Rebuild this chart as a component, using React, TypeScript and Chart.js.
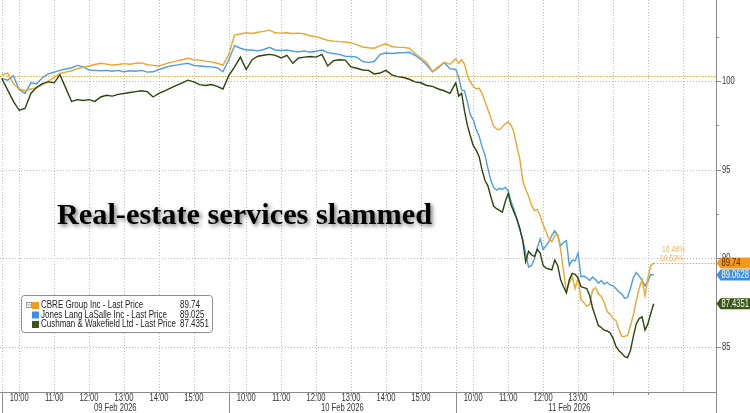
import React, { useEffect, useRef } from "react";
import { Chart, registerables } from "chart.js";

Chart.register(...registerables);

// ---------- data ----------
const DAYS = ["09 Feb 2026", "10 Feb 2026", "11 Feb 2026"];
const OPEN = "09:30";
const STEP_MIN = [10, 10, 5]; // minutes between readings on each day
const HOUR_LABELS = [
  ["10:00", "11:00", "12:00", "13:00", "14:00", "15:00"],
  ["10:00", "11:00", "12:00", "13:00", "14:00", "15:00"],
  ["10:00", "11:00", "12:00", "13:00"],
];
const GRID_TIMES = ["09:30", "10:00", "11:00", "12:00", "13:00", "14:00", "15:00"];
const Y_TICKS = [85, 90, 95, 100];
const Y_MINOR = [87.5, 92.5, 97.5, 102.5];
const Y_MIN = 82.46;
const Y_MAX = 104.57;

const SERIES_NAMES = [
  "CBRE Group Inc - Last Price",
  "Jones Lang LaSalle Inc - Last Price",
  "Cushman & Wakefield Ltd - Last Price",
];
const LEGEND_VALUES = ["89.74", "89.025", "87.4351"];
const TAG_LABELS = ["89.74", "89.0628", "87.4351"];
const CBRE_REF = 100.28;
const CHANGE_LABELS = ["-10.48%", "-10.50%"];
const TITLE = "Real-estate services slammed";

const cbreDay1 = [100.34, 100.45, 99.85, 99.55, 99.45, 99.55, 99.62, 99.8, 100.0, 100.2, 100.43, 100.5, 100.58, 100.7, 100.78, 100.85, 100.93, 101.0, 100.95, 100.9, 100.93, 100.98, 100.95, 101.0, 101.02, 100.92, 100.88, 100.85, 100.95, 101.05, 101.12, 101.2, 101.28, 101.2, 101.18, 101.12, 101.08, 101.0, 100.9];
const cbreDay2 = [101.5, 102.6, 102.65, 102.72, 102.68, 102.75, 102.8, 102.87, 102.72, 102.7, 102.72, 102.68, 102.7, 102.65, 102.55, 102.5, 102.4, 102.3, 102.25, 102.22, 102.2, 102.15, 102.05, 101.92, 101.88, 101.85, 102.0, 102.1, 101.95, 101.9, 101.9, 101.85, 101.55, 101.3, 101.05, 100.55, 100.8, 101.05, 100.95];
const cbreDay3 = [101.25, 101.0, 101.2, 100.95, 100.3, 99.95, 99.7, 99.55, 99.6, 99.3, 98.85, 98.4, 97.95, 97.45, 97.3, 97.25, 97.4, 97.6, 97.7, 97.5, 97.1, 96.3, 95.6, 94.4, 93.9, 93.5, 93.0, 92.7, 92.75, 92.4, 91.9, 91.5, 91.1, 90.95, 91.3, 91.35, 90.5, 89.3, 88.1, 88.6, 88.95, 88.3, 88.9, 87.7, 87.5, 87.3, 87.4, 88.2, 88.35, 88.0, 87.85, 87.5, 87.0, 86.85, 86.6, 86.5, 86.0, 85.6, 85.6, 85.65, 86.2, 86.8, 87.6, 88.3, 88.8, 87.9, 88.9, 89.6, 89.74];

const jllDay1 = [100.15, 100.05, 100.3, 99.5, 99.3, 99.9, 99.85, 100.2, 100.4, 100.5, 100.6, 100.68, 100.75, 100.88, 100.8, 100.62, 100.6, 100.58, 100.6, 100.55, 100.6, 100.52, 100.58, 100.55, 100.6, 100.5, 100.52, 100.65, 100.75, 100.85, 100.9, 100.95, 101.0, 100.88, 100.85, 100.82, 100.8, 100.75, 100.52];
const jllDay2 = [101.2, 102.0, 101.85, 101.75, 101.75, 101.7, 101.78, 101.9, 101.75, 101.72, 101.75, 101.68, 101.65, 101.7, 101.62, 101.68, 101.75, 101.6, 101.55, 101.5, 101.4, 101.38, 101.35, 101.1, 101.05, 101.1, 101.5, 101.58, 101.55, 101.58, 101.6, 101.62, 101.45, 101.2, 100.9, 100.52, 100.75, 101.05, 100.7];
const jllDay3 = [100.65, 100.2, 99.5, 99.45, 98.8, 98.1, 97.8, 97.3, 96.9, 96.3, 95.85, 95.1, 94.4, 94.0, 93.85, 93.95, 93.9, 94.0, 93.8, 93.2, 92.75, 92.2, 91.6, 91.05, 90.3, 89.5, 89.6, 89.95, 90.6, 91.1, 90.5, 90.7, 90.95, 91.3, 91.55, 91.3, 90.7, 90.9, 91.0, 89.6, 89.9, 89.85, 90.3, 88.95, 89.0, 88.9, 88.75, 88.95, 88.8, 88.6, 88.75, 88.55, 88.65, 88.5, 88.45, 88.3, 88.1, 88.0, 87.75, 87.8, 88.3, 88.9, 89.2, 89.0, 88.75, 88.45, 88.7, 89.1, 89.06];

const cwDay1 = [100.15, 99.5, 98.85, 98.35, 98.45, 99.3, 99.65, 99.85, 99.95, 99.9, 100.35, 99.6, 98.85, 98.95, 98.9, 98.95, 98.85, 99.1, 99.2, 99.15, 99.25, 99.3, 99.35, 99.4, 99.45, 99.4, 99.1, 99.3, 99.45, 99.6, 99.75, 99.9, 100.05, 99.95, 99.8, 99.75, 99.8, 99.7, 99.55];
const cwDay2 = [100.3, 100.8, 101.35, 100.65, 101.2, 101.4, 101.45, 101.5, 101.45, 101.3, 101.45, 101.0, 101.3, 101.35, 101.38, 101.35, 101.5, 100.85, 101.15, 101.2, 101.18, 100.8, 100.72, 100.62, 100.6, 100.4, 100.45, 100.6, 100.35, 100.25, 100.2, 100.1, 99.95, 99.9, 99.75, 99.7, 99.55, 99.45, 99.3];
const cwDay3 = [99.9, 99.15, 99.3, 98.3, 97.5, 96.9, 96.35, 96.1, 95.75, 95.0, 94.4, 94.1, 93.5, 92.95, 92.8, 92.7, 92.6, 93.2, 93.65, 93.0, 92.6, 92.2, 91.7, 91.0, 89.8, 90.4, 90.2, 90.1, 90.5, 90.3, 89.6, 89.45, 89.4, 89.35, 89.9, 89.6, 88.8, 88.4, 88.05, 88.8, 89.15, 89.1, 88.9, 88.4, 88.35, 88.3, 87.9, 87.2, 86.7, 86.2, 86.1, 85.95, 85.9, 85.8, 85.5, 85.05, 84.8, 84.65, 84.45, 84.4, 84.8, 85.6, 86.3, 86.6, 86.7, 85.95, 86.3, 86.9, 87.4351];

const LINE_COLORS = ["#EBA62E", "#4E9DE0", "#2C4410"];
const TAG_COLORS = ["#F39A1B", "#3D8EE2", "#3A5618"];
const TAG_TEXT = ["#5A2400", "#FFFFFF", "#FFFFFF"];

// ---------- helpers ----------
const SESSION_MIN = 390;
const X_MIN = -3;
const X_MAX = 1227;
const hm = (t: string) => {
  const [h, m] = t.split(":").map(Number);
  return h * 60 + m;
};
const toX = (day: number, t: string) => day * SESSION_MIN + hm(t) - hm(OPEN);

function buildSeries(days: number[][]) {
  const pts: { x: number; y: number }[] = [];
  days.forEach((vals, d) => {
    vals.forEach((v, i) => pts.push({ x: d * SESSION_MIN + i * STEP_MIN[d], y: v }));
  });
  return pts;
}

const SX = 0.76;
function txt(
  ctx: CanvasRenderingContext2D,
  s: string,
  x: number,
  y: number,
  font: string,
  color: string,
  align: "left" | "center" | "right" = "left",
  sx = SX
) {
  ctx.save();
  ctx.font = font;
  ctx.fillStyle = color;
  ctx.textBaseline = "middle";
  ctx.textAlign = "left";
  const w = ctx.measureText(s).width * sx;
  const x0 = align === "center" ? x - w / 2 : align === "right" ? x - w : x;
  ctx.translate(x0, y);
  ctx.scale(sx, 1);
  ctx.fillText(s, 0, 0);
  ctx.restore();
}

function seg(ctx: CanvasRenderingContext2D, x1: number, y1: number, x2: number, y2: number) {
  ctx.beginPath();
  ctx.moveTo(x1, y1);
  ctx.lineTo(x2, y2);
  ctx.stroke();
}

const AXIS_FONT = "10px 'Liberation Sans', Arial, sans-serif";

const decoPlugin = {
  id: "deco",
  beforeDatasetsDraw(chart: any) {
    const { ctx, chartArea: a, scales } = chart;
    const xs = scales.x;
    const ys = scales.y;
    ctx.save();
    ctx.lineWidth = 1;
    ctx.strokeStyle = "#b9b9b9";
    ctx.setLineDash([1, 2]);
    for (const v of Y_TICKS) {
      const py = Math.round(ys.getPixelForValue(v)) + 0.5;
      seg(ctx, a.left, py, a.right, py);
    }
    for (let d = 0; d < 3; d++) {
      const times = d === 2 ? [...GRID_TIMES, "16:00"] : GRID_TIMES;
      for (const t of times) {
        const px = Math.round(xs.getPixelForValue(toX(d, t))) + 0.5;
        seg(ctx, px, a.top, px, a.bottom);
      }
    }
    // CBRE reference line
    ctx.strokeStyle = LINE_COLORS[0];
    ctx.setLineDash([1.5, 1.5]);
    const ry = Math.round(ys.getPixelForValue(CBRE_REF)) + 0.5;
    seg(ctx, a.left, ry, a.right, ry);
    // CBRE last value line
    const data = chart.data.datasets[0].data;
    const last = data[data.length - 1];
    const ly = Math.round(ys.getPixelForValue(last.y)) + 0.5;
    seg(ctx, xs.getPixelForValue(last.x), ly, a.right, ly);
    ctx.restore();
  },
  afterDraw(chart: any) {
    const { ctx, chartArea: a, scales } = chart;
    const xs = scales.x;
    const ys = scales.y;
    const W = chart.width;
    const H = chart.height;
    ctx.save();
    ctx.setLineDash([]);
    ctx.lineWidth = 1;
    ctx.strokeStyle = "#8a8a8a";
    // axes
    seg(ctx, a.left, a.bottom + 0.5, a.right, a.bottom + 0.5);
    seg(ctx, a.right + 0.5, 0, a.right + 0.5, H);
    // y ticks and labels
    for (const v of Y_MINOR) {
      const py = Math.round(ys.getPixelForValue(v)) + 0.5;
      seg(ctx, a.right, py, a.right + 3, py);
    }
    for (const v of Y_TICKS) {
      const py = Math.round(ys.getPixelForValue(v)) + 0.5;
      seg(ctx, a.right, py, a.right + 5, py);
      txt(ctx, String(v), a.right + 6, py, AXIS_FONT, "#333");
    }
    // x axis: day separators, half-hour ticks, hour labels, dates
    for (let d = 0; d < 3; d++) {
      const sx0 = Math.round(xs.getPixelForValue(toX(d, OPEN))) + 0.5;
      seg(ctx, sx0, a.bottom, sx0, H);
      for (let m = 30; m < SESSION_MIN; m += 60) {
        const px = Math.round(xs.getPixelForValue(d * SESSION_MIN + m)) + 0.5;
        if (px < a.right) seg(ctx, px, a.bottom, px, a.bottom + 3);
      }
      for (const t of HOUR_LABELS[d]) {
        txt(ctx, t, xs.getPixelForValue(toX(d, t)), a.bottom + 6, AXIS_FONT, "#333", "center");
      }
      const mid = xs.getPixelForValue(toX(d, "12:45"));
      txt(ctx, DAYS[d], mid, a.bottom + 16, AXIS_FONT, "#333", "center");
    }
    // value tags on right axis
    chart.data.datasets.forEach((ds: any, i: number) => {
      const last = ds.data[ds.data.length - 1];
      const yc = ys.getPixelForValue(last.y);
      const h = 11;
      const x0 = a.right + 0.5;
      ctx.beginPath();
      ctx.moveTo(x0, yc);
      ctx.lineTo(x0 + 4, yc - h / 2);
      ctx.lineTo(W, yc - h / 2);
      ctx.lineTo(W, yc + h / 2);
      ctx.lineTo(x0 + 4, yc + h / 2);
      ctx.closePath();
      ctx.fillStyle = TAG_COLORS[i];
      ctx.fill();
      txt(ctx, TAG_LABELS[i], x0 + 5, yc + 0.5, AXIS_FONT, TAG_TEXT[i]);
    });
    // change annotations
    const cb = chart.data.datasets[0].data;
    const cl = cb[cb.length - 1];
    const ax = xs.getPixelForValue(cl.x) + 6;
    const ay = ys.getPixelForValue(cl.y);
    txt(ctx, CHANGE_LABELS[0], ax, ay - 13, "9px 'Liberation Sans', Arial, sans-serif", "#EDB565");
    txt(ctx, CHANGE_LABELS[1], ax - 2, ay - 4.5, "9px 'Liberation Sans', Arial, sans-serif", "#EDB565");

    // legend
    const lx = 21.5, ly = 295.5, lw = 191, lh = 37;
    ctx.beginPath();
    ctx.roundRect(lx, ly, lw, lh, 3);
    ctx.fillStyle = "#ffffff";
    ctx.fill();
    ctx.strokeStyle = "#8f8f8f";
    ctx.stroke();
    // collapse icon
    ctx.strokeStyle = "#9a9a9a";
    ctx.strokeRect(26.5, 302.5, 5, 5);
    seg(ctx, 27.5, 305, 31, 305);
    const rowsY = [305.5, 315, 324.5];
    const LEG_FONT = "10px 'Liberation Sans', Arial, sans-serif";
    rowsY.forEach((ry, i) => {
      ctx.fillStyle = LINE_COLORS[i === 0 ? 0 : i];
      ctx.fillStyle = TAG_COLORS[i];
      ctx.fillRect(32, ry - 3.5, 7, 7);
      txt(ctx, SERIES_NAMES[i], 41, ry, LEG_FONT, "#222", "left", 0.8);
      txt(ctx, LEGEND_VALUES[i], 180, ry, LEG_FONT, "#222", "left", 0.8);
    });

    // title with soft shadow
    ctx.save();
    ctx.font = "bold 30px 'Liberation Serif', 'Times New Roman', serif";
    ctx.textBaseline = "alphabetic";
    const tw = ctx.measureText(TITLE).width;
    const tsx = 375 / tw;
    ctx.translate(57, 224);
    ctx.scale(tsx, 1);
    ctx.shadowColor = "rgba(0,0,0,0.55)";
    ctx.shadowBlur = 4;
    ctx.shadowOffsetX = 2;
    ctx.shadowOffsetY = 2;
    ctx.fillStyle = "#000";
    ctx.fillText(TITLE, 0, 0);
    ctx.restore();

    ctx.restore();
  },
};

export default function App() {
  const ref = useRef<HTMLCanvasElement | null>(null);
  useEffect(() => {
    if (!ref.current) return;
    const series = [
      buildSeries([cbreDay1, cbreDay2, cbreDay3]),
      buildSeries([jllDay1, jllDay2, jllDay3]),
      buildSeries([cwDay1, cwDay2, cwDay3]),
    ];
    const chart = new Chart(ref.current, {
      type: "line",
      data: {
        datasets: series.map((d, i) => ({
          label: SERIES_NAMES[i],
          data: d,
          borderColor: LINE_COLORS[i],
          borderWidth: 1.4,
          pointRadius: 0,
          tension: 0,
          fill: false,
          order: [1, 2, 0][i],
        })),
      },
      options: {
        animation: false,
        responsive: false,
        devicePixelRatio: 1,
        layout: { padding: { left: 0, top: 0, right: 34, bottom: 21 } },
        plugins: { legend: { display: false }, tooltip: { enabled: false } },
        scales: {
          x: { type: "linear", min: X_MIN, max: X_MAX, display: false },
          y: { type: "linear", min: Y_MIN, max: Y_MAX, display: false },
        },
      },
      plugins: [decoPlugin],
    });
    return () => chart.destroy();
  }, []);
  return (
    <div style={{ position: "fixed", left: 0, top: 0, width: 750, height: 413, background: "#fff" }}>
      <canvas ref={ref} width={750} height={413} style={{ display: "block" }} />
    </div>
  );
}
